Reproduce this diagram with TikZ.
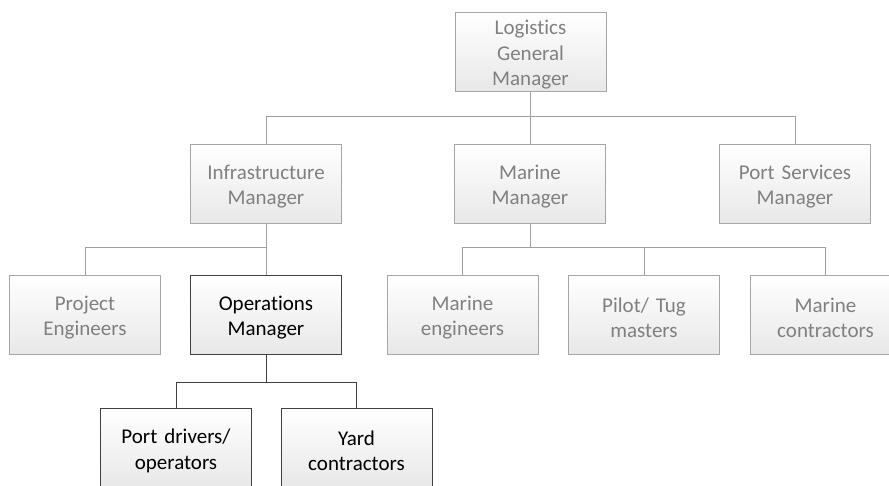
\documentclass[tikz,border=0pt]{standalone}
\usepackage{fontspec}
\setmainfont{Carlito}[Ligatures=NoCommon]
\definecolor{boxgray}{HTML}{A6A6A6}
\definecolor{txtgray}{HTML}{808080}
\definecolor{fillgray}{HTML}{E8E8E8}
\definecolor{linegray}{HTML}{A0A0A0}
\definecolor{darkline}{HTML}{404040}
\begin{document}
\begin{tikzpicture}[x=1pt,y=-1pt,
  box/.style={draw=boxgray, line width=1pt, top color=white, bottom color=fillgray,
    minimum width=151pt, minimum height=79pt, text width=147pt, align=center,
    inner sep=0pt, font=\fontsize{21}{25.5}\selectfont, text=txtgray,
    execute at begin node={\rule{0pt}{21pt}}},
  darkbox/.style={box, draw=darkline, text=black},
  conn/.style={draw=linegray, line width=1pt},
  darkconn/.style={draw=darkline, line width=1pt}]
\clip (0,0) rectangle (889,485);
\fill[white] (0,0) rectangle (889,485);

\coordinate (b1) at (0,116);
\coordinate (b2) at (0,247);
\coordinate (b3) at (0,382);

\node[box] (lgm) at (530.5,51.5) {Logistics\\General\\Manager};
\node[box] (inf) at (266,183.5) {Infrastructure\\Manager};
\node[box] (mar) at (530,183.5) {Marine\\Manager};
\node[box] (psm) at (795,183.5) {Port Services\\Manager};
\node[box] (pe) at (85,314.5) {Project\\Engineers};
\node[darkbox] (ops) at (266,314.5) {Operations\\Manager};
\node[box] (me) at (462.5,314.5) {Marine\\engineers};
\node[box] (pt) at (644,314.5) {Pilot/ Tug\\masters};
\node[box] (mc) at (825.5,314.5) {Marine\\contractors};
\node[darkbox] (pd) at (176,447.5) {Port drivers/\\operators};
\node[darkbox] (yc) at (356.5,447.5) {Yard\\contractors};

\draw[conn] (lgm.south) -- (lgm.south |- b1);
\draw[conn] (inf.north) |- (psm.north |- b1) -- (psm.north);
\draw[conn] (mar.north) -- (mar.north |- b1);

\draw[conn] (inf.south) -- (ops.north);
\draw[conn] (pe.north) |- (ops.north |- b2);

\draw[conn] (mar.south) -- (mar.south |- b2);
\draw[conn] (me.north) |- (mc.north |- b2) -- (mc.north);
\draw[conn] (pt.north) -- (pt.north |- b2);

\draw[darkconn] (ops.south) -- (ops.south |- b3);
\draw[darkconn] (pd.north) |- (yc.north |- b3) -- (yc.north);
\end{tikzpicture}
\end{document}
